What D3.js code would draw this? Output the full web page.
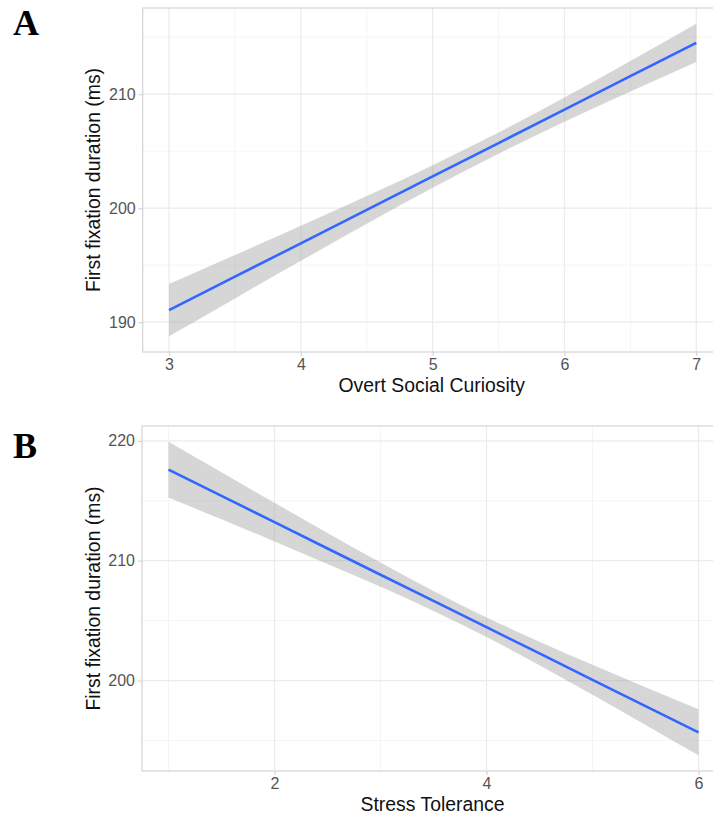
<!DOCTYPE html>
<html>
<head>
<meta charset="utf-8">
<script src="https://cdn.jsdelivr.net/npm/d3@7"></script>
<style>
  html, body { margin: 0; padding: 0; background: #fff; }
  svg { display: block; }
</style>
</head>
<body>
<svg id="chart" width="713" height="814"></svg>
<script>
// ---------------- DATA ----------------
// Panel A: Overt Social Curiosity
const aX     = [3, 3.5, 4, 4.5, 5, 5.5, 6, 6.5, 7];
const aFit   = [191.06, 193.99, 196.92, 199.85, 202.78, 205.71, 208.64, 211.57, 214.50];
const aLower = [188.76, 192.09, 195.38, 198.64, 201.79, 204.78, 207.58, 210.24, 212.82];
const aUpper = [193.36, 195.90, 198.46, 201.06, 203.77, 206.64, 209.70, 212.91, 216.18];
const aXTicks = [3, 4, 5, 6, 7];
const aXMinor = [3.5, 4.5, 5.5, 6.5];
const aYTicks = [190, 200, 210];
const aYMinor = [195, 205, 215];

// Panel B: Stress Tolerance
const bX     = [1, 1.5, 2, 2.5, 3, 3.5, 4, 4.5, 5, 5.5, 6];
const bFit   = [217.60, 215.41, 213.22, 211.02, 208.83, 206.64, 204.45, 202.26, 200.06, 197.87, 195.68];
const bLower = [215.27, 213.45, 211.61, 209.73, 207.82, 205.81, 203.63, 201.28, 198.81, 196.30, 193.76];
const bUpper = [219.93, 217.37, 214.83, 212.31, 209.84, 207.47, 205.27, 203.24, 201.31, 199.44, 197.60];
const bXTicks = [2, 4, 6];
const bXMinor = [1, 3, 5];
const bYTicks = [200, 210, 220];
const bYMinor = [195, 205, 215];

const yTitle = "First fixation duration (ms)";
const aXTitle = "Overt Social Curiosity";
const bXTitle = "Stress Tolerance";

// ---------------- DRAW ----------------
const svg = d3.select("#chart");

function expand(lo, hi) { const d = (hi - lo) * 0.05; return [lo - d, hi + d]; }

function panel(cfg) {
  const g = svg.append("g");
  const xDom = expand(d3.min(cfg.x), d3.max(cfg.x));
  const yDom = expand(d3.min(cfg.lower), d3.max(cfg.upper));
  const x = d3.scaleLinear().domain(xDom).range([cfg.left, cfg.left + cfg.pxPerX * (xDom[1] - xDom[0])]);
  const y = d3.scaleLinear().domain(yDom).range([cfg.bottom, cfg.top]);
  const [x0, x1] = x.range();

  // minor grid
  g.selectAll(".ymin").data(cfg.yMinor).join("line")
    .attr("x1", x0).attr("x2", x1).attr("y1", d => y(d)).attr("y2", d => y(d))
    .attr("stroke", "#f2f2f2").attr("stroke-width", 0.8);
  g.selectAll(".xmin").data(cfg.xMinor).join("line")
    .attr("y1", cfg.top).attr("y2", cfg.bottom).attr("x1", d => x(d)).attr("x2", d => x(d))
    .attr("stroke", "#f2f2f2").attr("stroke-width", 0.8);
  // major grid
  g.selectAll(".ymaj").data(cfg.yTicks).join("line")
    .attr("x1", x0).attr("x2", x1).attr("y1", d => y(d)).attr("y2", d => y(d))
    .attr("stroke", "#ebebeb").attr("stroke-width", 1.2);
  g.selectAll(".xmaj").data(cfg.xTicks).join("line")
    .attr("y1", cfg.top).attr("y2", cfg.bottom).attr("x1", d => x(d)).attr("x2", d => x(d))
    .attr("stroke", "#ebebeb").attr("stroke-width", 1.2);

  const pts = cfg.x.map((v, i) => ({ x: v, fit: cfg.fit[i], lo: cfg.lower[i], hi: cfg.upper[i] }));
  g.append("path").datum(pts)
    .attr("d", d3.area().x(d => x(d.x)).y0(d => y(d.lo)).y1(d => y(d.hi)).curve(d3.curveMonotoneX))
    .attr("fill", "#999999").attr("fill-opacity", 0.4);
  g.append("path").datum(pts)
    .attr("d", d3.line().x(d => x(d.x)).y(d => y(d.fit)))
    .attr("fill", "none").attr("stroke", "#3366FF").attr("stroke-width", 2.6);

  // border
  g.append("rect").attr("x", x0).attr("y", cfg.top).attr("width", x1 - x0).attr("height", cfg.bottom - cfg.top)
    .attr("fill", "none").attr("stroke", "#d4d4d4").attr("stroke-width", 1.2);

  // axes
  const xa = g.append("g").attr("transform", `translate(0,${cfg.bottom})`)
    .call(d3.axisBottom(x).tickValues(cfg.xTicks).tickSize(4).tickPadding(3).tickFormat(d3.format("d")));
  const ya = g.append("g").attr("transform", `translate(${x0},0)`)
    .call(d3.axisLeft(y).tickValues(cfg.yTicks).tickSize(4).tickPadding(3).tickFormat(d3.format("d")));
  [xa, ya].forEach(a => {
    a.select(".domain").remove();
    a.selectAll("line").attr("stroke", "#d4d4d4").attr("stroke-width", 1.2);
    a.selectAll("text").attr("fill", "#555555").style("font-family", "'Liberation Sans', Arial, sans-serif").style("font-size", "16px");
  });

  // titles
  g.append("text").attr("x", (x0 + x1) / 2 - 1).attr("y", cfg.bottom + 40)
    .attr("text-anchor", "middle").attr("fill", "#111")
    .style("font-family", "'Liberation Sans', Arial, sans-serif").style("font-size", "19.4px")
    .text(cfg.xTitle);
  g.append("text").attr("transform", `translate(100,${(cfg.top + cfg.bottom) / 2}) rotate(-90)`)
    .attr("text-anchor", "middle").attr("fill", "#111")
    .style("font-family", "'Liberation Sans', Arial, sans-serif").style("font-size", "19.4px")
    .text(yTitle);
  g.append("text").attr("x", 13).attr("y", cfg.tagY)
    .attr("fill", "#000").style("font-family", "'Liberation Serif', 'Times New Roman', serif")
    .style("font-weight", "bold").style("font-size", "36px")
    .text(cfg.tag);
}

panel({ x: aX, fit: aFit, lower: aLower, upper: aUpper, xTicks: aXTicks, xMinor: aXMinor,
  yTicks: aYTicks, yMinor: aYMinor, left: 142.7, top: 8, bottom: 352, pxPerX: 131.8,
  xTitle: aXTitle, tag: "A", tagY: 35 });
panel({ x: bX, fit: bFit, lower: bLower, upper: bUpper, xTicks: bXTicks, xMinor: bXMinor,
  yTicks: bYTicks, yMinor: bYMinor, left: 142, top: 426, bottom: 771, pxPerX: 106,
  xTitle: bXTitle, tag: "B", tagY: 458 });
</script>
</body>
</html>
